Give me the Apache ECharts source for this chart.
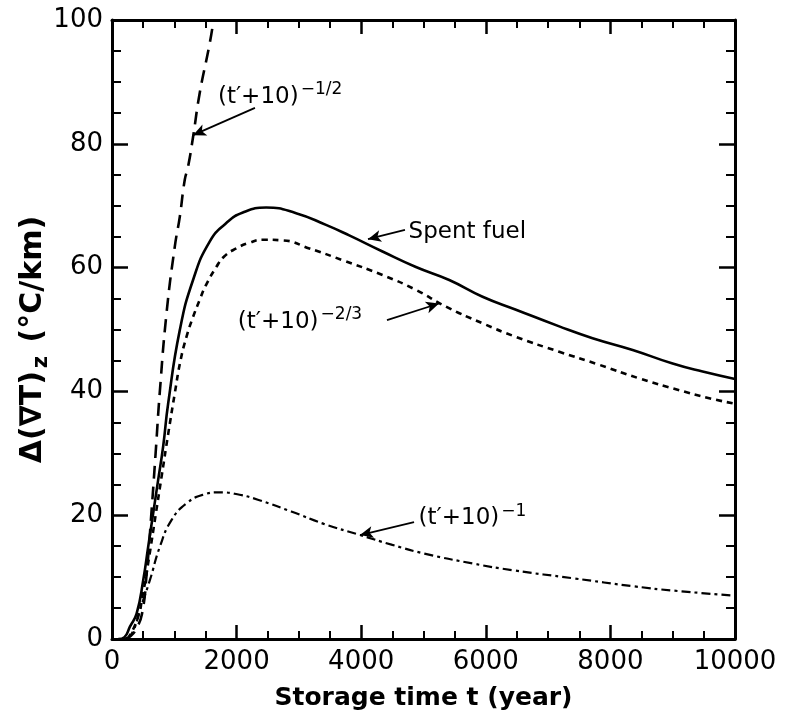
<!DOCTYPE html>
<html>
<head>
<meta charset="utf-8">
<script src="https://cdn.jsdelivr.net/npm/echarts@6/dist/echarts.min.js"></script>
<style>
html,body{margin:0;padding:0;background:#fff;}
#chart{width:787px;height:718px;}
</style>
</head>
<body>
<div id="chart"></div>
<script>
// ---- data (storage time t in years, delta gradient in °C/km) ----
const tSpent = [100,200,288,395,501,581,661,741,821,901,1088,1301,1568,1835,2101,2475,2955,3435,3808,4342,4878,5413,5948,6484,7179,7714,8357,8999,9480,10000];
const vSpent = [0,0.3,2,4.1,9.5,14.9,20.3,25.7,31.1,38,49.9,58,64.2,67.2,68.9,69.7,68.8,66.9,65.2,62.6,60.1,58.0,55.3,53.2,50.5,48.6,46.7,44.5,43.2,42.0];

const tHalf = [200,300,380,480,560,630,700,768,875,1008,1088,1168,1221,1301,1408,1568,1630];
const vHalf = [0,0.5,1.5,4,11,20,30,40,52.6,63.4,68.2,74.2,76.3,81.1,88.2,96.2,100];

const tTwoThird = [250,400,500,600,700,800,900,1008,1100,1195,1300,1408,1500,1675,1800,1995,2200,2421,2741,3168,3701,4342,4878,5360,5948,6484,7179,7820,8464,9106,9587,10000];
const vTwoThird = [0,3,7.5,13.5,20,26.5,33,39.7,45,48.8,52,54.8,57,60.1,61.8,63.1,64,64.5,64.4,63.1,61.2,58.8,56.4,53.7,51.0,48.8,46.4,44.3,42.1,40.2,38.9,38.0];

const tOne = [250,350,448,608,768,955,1195,1461,1728,2048,2341,2877,3400,3980,4500,5015,5790,6440,7410,8385,9030,10000];
const vOne = [0,1.5,4.7,9.5,14.9,19.2,21.9,23.3,23.7,23.3,22.5,20.6,18.6,16.8,15.2,13.8,12.2,11.1,9.8,8.5,7.8,7.0];

const xTicks = {min:0, max:10000, interval:2000};
const yTicks = {min:0, max:100, interval:20};

const pairs = (ts, vs) => ts.map((t, i) => [t, vs[i]]);

const FONT = 'DejaVu Sans';
const chart = echarts.init(document.getElementById('chart'), null, {renderer:'canvas'});

const axisCommon = {
  type:'value',
  axisLine:{show:true, onZero:false, lineStyle:{color:'#000', width:3}},
  splitLine:{show:false},
  minorSplitLine:{show:false}
};

function xAx(pos, labels){
  return Object.assign({}, axisCommon, {
    position:pos, min:xTicks.min, max:xTicks.max, interval:xTicks.interval,
    axisTick:{show:true, inside:true, length:14, lineStyle:{color:'#000', width:2.5}},
    minorTick:{show:true, splitNumber:4, length:8, lineStyle:{color:'#000', width:2}},
    axisLabel:{show:labels, color:'#000', fontSize:26, fontFamily:FONT, margin:10, formatter:v => String(v)},
    name: labels ? 'Storage time t (year)' : '',
    nameLocation:'middle', nameGap:47, nameMoveOverlap:false,
    nameTextStyle:{color:'#000', fontSize:25, fontWeight:'bold', fontFamily:FONT}
  });
}
function yAx(pos, labels){
  return Object.assign({}, axisCommon, {
    position:pos, min:yTicks.min, max:yTicks.max, interval:yTicks.interval,
    axisTick:{show:true, inside:true, length:16, lineStyle:{color:'#000', width:2.5}},
    minorTick:{show:true, splitNumber:4, length:9, lineStyle:{color:'#000', width:2}},
    axisLabel:{show:labels, color:'#000', fontSize:26, fontFamily:FONT, margin:9, formatter:v => String(v)},
    name: labels ? '{a|Δ(∇T)}{s|z}{a| (°C/km)}' : '',
    nameLocation:'middle', nameGap:60, nameMoveOverlap:false,
    nameTextStyle:{
      color:'#000', fontFamily:FONT, padding:[0,20,0,0],
      rich:{
        a:{fontSize:30, fontWeight:'bold', fontFamily:FONT, color:'#000'},
        s:{fontSize:21, fontWeight:'bold', fontFamily:FONT, color:'#000', padding:[16,3,0,3]}
      }
    }
  });
}

function arrow(from, to){
  return [{coord:from, symbol:'none'}, {coord:to, symbol:'arrow', symbolSize:[9,13]}];
}

const lineBase = {type:'line', showSymbol:false, smooth:0.5, xAxisIndex:0, yAxisIndex:0, silent:true, animation:false, clip:true};

chart.setOption({
  animation:false,
  backgroundColor:'#fff',
  grid:{left:112, right:52, top:20, bottom:79, containLabel:false, outerBoundsMode:'none'},
  xAxis:[xAx('bottom', true), xAx('top', false)],
  yAxis:[yAx('left', true), yAx('right', false)],
  series:[
    Object.assign({}, lineBase, {name:'Spent fuel', data:pairs(tSpent, vSpent),
      lineStyle:{color:'#000', width:2.6, type:'solid'},
      markLine:{silent:true, animation:false, label:{show:false}, lineStyle:{color:'#000', width:1.8, type:'solid'},
        data:[arrow([4703,66.1],[4109,64.6])]}}),
    Object.assign({}, lineBase, {name:'half', data:pairs(tHalf, vHalf),
      lineStyle:{color:'#000', width:2.6, type:[13,8]},
      markLine:{silent:true, animation:false, label:{show:false}, lineStyle:{color:'#000', width:1.8, type:'solid'},
        data:[arrow([2295,85.8],[1300,81.4])]}}),
    Object.assign({}, lineBase, {name:'twothird', data:pairs(tTwoThird, vTwoThird),
      lineStyle:{color:'#000', width:2.6, type:[6,5]},
      markLine:{silent:true, animation:false, label:{show:false}, lineStyle:{color:'#000', width:1.8, type:'solid'},
        data:[arrow([4414,51.5],[5249,54.2])]}}),
    Object.assign({}, lineBase, {name:'one', data:pairs(tOne, vOne),
      lineStyle:{color:'#000', width:2.2, type:[9,4,3,4]},
      markLine:{silent:true, animation:false, label:{show:false}, lineStyle:{color:'#000', width:1.8, type:'solid'},
        data:[arrow([4848,18.9],[3981,16.8])]}})
  ]
});

// annotation labels anchored in data coordinates
const notes = [
  {at:[1700,87.6], text:'{m|(t′+10)}{s|−1/2}'},
  {at:[4760,65.8], text:'{m|Spent fuel}'},
  {at:[2020,51.2], text:'{m|(t′+10)}{s|−2/3}'},
  {at:[4920,19.5], text:'{m|(t′+10)}{s|−1}'}
];
const rich = {
  m:{fontSize:23, fontFamily:FONT, color:'#000'},
  s:{fontSize:17, fontFamily:FONT, color:'#000', padding:[0,0,14,2]}
};
chart.setOption({
  graphic: notes.map(n => {
    const p = chart.convertToPixel({gridIndex:0}, n.at);
    return {type:'text', x:p[0], y:p[1], silent:true,
      style:{text:n.text, rich:rich, verticalAlign:'middle', align:'left', fill:'#000'}};
  })
});
</script>
</body>
</html>
